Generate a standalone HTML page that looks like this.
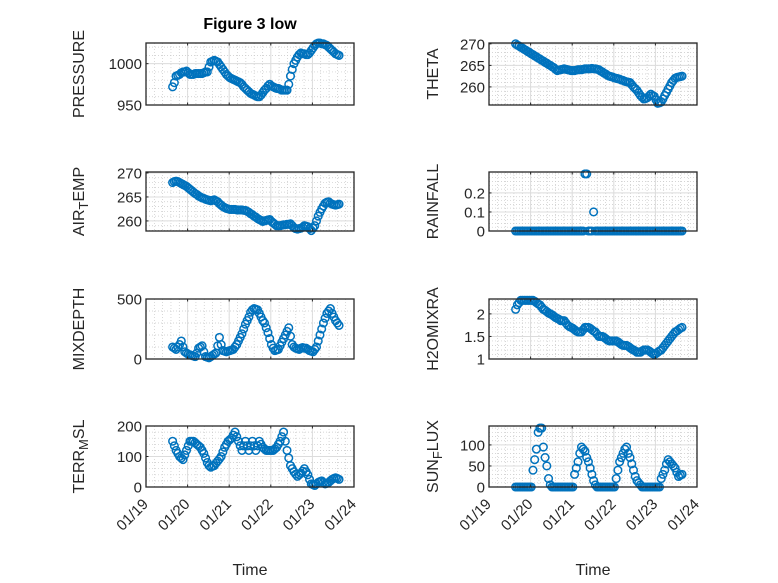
<!DOCTYPE html>
<html><head><meta charset="utf-8"><style>
body{margin:0;background:#fff;}
svg{display:block;font-family:"Liberation Sans","DejaVu Sans",sans-serif;}
</style></head><body>
<svg id="fig" width="778" height="583" viewBox="0 0 778 583">
<rect width="778" height="583" fill="#fff"/>
<text x="250" y="29" text-anchor="middle" font-size="16" font-weight="bold" fill="#000">Figure 3 low</text>
</svg>
<script>
const times = [];
for (let k = 0; k < 97; k++) times.push(19.64 + k / 24);
const dayTicks = [19, 20, 21, 22, 23, 24];
const dayLabels = ["01/19","01/20","01/21","01/22","01/23","01/24"];
const pressure = [972,977,985,986,987,989,990,990,991,989,987,987,987,988,988,988,988,988,989,990,990,996,1002,1003,1004,1003,1002,999,996,993,990,987,985,983,982,981,980,979,978,977,975,972,970,968,966,964,963,962,961,960,960,962,965,968,970,973,975,973,972,971,970,970,969,968,968,968,968,975,985,993,1000,1004,1008,1011,1013,1012,1012,1011,1011,1013,1016,1019,1022,1024,1025,1025,1024,1024,1023,1022,1020,1018,1016,1014,1012,1011,1010];
const theta = [270,269.7,269.5,269.2,269,268.7,268.5,268.2,268,267.7,267.5,267.2,267,266.7,266.5,266.2,266,265.7,265.5,265.2,265,264.7,264.5,264.1,263.8,263.9,264,264.1,264.2,264.1,264,263.9,263.8,263.8,263.8,263.9,264,264,264,264.1,264.2,264.2,264.2,264.2,264.3,264.2,264.2,264.1,264,263.7,263.5,263.2,263,262.7,262.5,262.4,262.3,262.1,262,261.9,261.8,261.6,261.5,261.3,261.2,261.1,261,260.5,260,259.6,259.2,258.6,258,257.6,257.2,257.3,257.5,257.9,258.3,258,257.8,257,256.2,256.3,256.5,257.2,258,258.7,259.5,260.2,261,261.5,262,262.2,262.3,262.4,262.5];
const airTemp = [268,268.2,268.3,268.2,268,267.8,267.6,267.4,267.2,266.9,266.6,266.3,266,265.7,265.5,265.2,265,264.8,264.7,264.5,264.4,264.3,264.2,264.3,264.4,264.2,264,263.6,263.3,263,262.8,262.6,262.5,262.4,262.4,262.4,262.4,262.3,262.3,262.3,262.3,262.2,262.2,262,261.8,261.5,261.3,261,260.8,260.5,260.3,260.1,259.9,260,260.1,260.2,260.3,259.9,259.6,259.3,259,259,259,259.1,259.2,259.2,259.3,259.3,259.4,259,258.6,258.4,258.3,258.4,258.5,258.7,259,258.9,258.8,258.4,258,258.5,259,260,261,261.8,262.5,263.1,263.7,263.9,264,263.7,263.5,263.4,263.3,263.4,263.5];
const rainfall = [0,0,0,0,0,0,0,0,0,0,0,0,0,0,0,0,0,0,0,0,0,0,0,0,0,0,0,0,0,0,0,0,0,0,0,0,0,0,0,0,0.3,0.3,0,0,0,0.1,0,0,0,0,0,0,0,0,0,0,0,0,0,0,0,0,0,0,0,0,0,0,0,0,0,0,0,0,0,0,0,0,0,0,0,0,0,0,0,0,0,0,0,0,0,0,0,0,0,0,0];
const mixDepth = [100,90,80,100,120,150,100,60,50,40,35,30,25,20,50,90,100,110,60,20,15,10,20,30,40,50,110,180,120,70,65,60,65,70,75,80,100,120,150,180,210,250,290,320,350,390,410,420,415,410,380,350,320,300,260,220,170,120,90,70,75,80,110,140,170,200,230,260,190,120,100,90,85,80,90,95,90,90,80,70,65,60,80,100,150,200,250,300,340,380,400,420,380,350,320,300,280];
const h2oMix = [2.1,2.2,2.25,2.3,2.3,2.3,2.3,2.3,2.3,2.3,2.3,2.28,2.25,2.22,2.2,2.15,2.1,2.08,2.05,2.02,2.0,1.98,1.95,1.92,1.9,1.88,1.85,1.85,1.85,1.8,1.75,1.72,1.7,1.68,1.65,1.62,1.6,1.6,1.6,1.65,1.7,1.7,1.7,1.68,1.65,1.62,1.6,1.55,1.5,1.5,1.5,1.48,1.45,1.42,1.4,1.4,1.4,1.4,1.4,1.38,1.35,1.32,1.3,1.3,1.3,1.28,1.25,1.22,1.2,1.18,1.15,1.15,1.15,1.18,1.2,1.2,1.2,1.18,1.15,1.12,1.1,1.12,1.15,1.18,1.2,1.25,1.3,1.35,1.4,1.45,1.5,1.55,1.6,1.62,1.65,1.68,1.7];
const terrMsl = [150,135,120,110,100,95,90,105,120,135,150,150,150,145,140,135,130,120,110,95,80,70,65,68,70,78,85,92,100,115,130,140,150,155,160,170,180,165,150,135,120,135,150,135,120,135,150,135,120,135,150,140,130,125,120,120,120,120,120,125,130,140,150,165,180,150,120,95,70,60,50,42,35,40,45,52,60,50,40,25,10,8,5,10,15,18,20,15,10,12,15,20,25,28,30,28,25];
const sunFlux = [0,0,0,0,0,0,0,0,0,0,40,65,90,130,140,140,95,70,50,20,5,0,0,0,0,0,0,0,0,0,0,0,0,0,30,45,60,80,95,90,85,70,60,45,30,15,5,0,0,0,0,0,0,0,0,0,0,0,20,40,60,70,80,90,95,80,70,55,40,25,15,10,5,0,0,0,0,0,0,0,0,0,0,0,20,30,40,55,65,60,55,50,45,35,25,28,30];

const NS = "http://www.w3.org/2000/svg";
const svg = document.getElementById("fig");
function mk(tag, attrs, parent) {
  const e = document.createElementNS(NS, tag);
  for (const k in attrs) e.setAttribute(k, attrs[k]);
  (parent || svg).appendChild(e);
  return e;
}
const panels = [
  {name:"pressure", data:pressure, x:146, y:43, w:208, h:62, ymin:950, ymax:1025, ticks:[950,1000], minor:10, label:["PRESSURE"], showX:false},
  {name:"theta", data:theta, x:489, y:43, w:208, h:62, ymin:255.8, ymax:270.2, ticks:[260,265,270], minor:1, label:["THETA"], showX:false},
  {name:"air-temp", data:airTemp, x:146, y:172, w:208, h:59, ymin:257.9, ymax:270.2, ticks:[260,265,270], minor:1, label:["AIR","T","EMP"], showX:false},
  {name:"rainfall", data:rainfall, x:489, y:172, w:208, h:59, ymin:0, ymax:0.31, ticks:[0,0.1,0.2], minor:0.02, label:["RAINFALL"], showX:false},
  {name:"mix-depth", data:mixDepth, x:146, y:299, w:208, h:60, ymin:0, ymax:500, ticks:[0,500], minor:100, label:["MIXDEPTH"], showX:false},
  {name:"h2o-mix-ratio", data:h2oMix, x:489, y:299, w:208, h:60, ymin:1, ymax:2.33, ticks:[1,1.5,2], minor:0.1, label:["H2OMIXRA"], showX:false},
  {name:"terr-msl", data:terrMsl, x:146, y:426, w:208, h:61, ymin:0, ymax:200, ticks:[0,100,200], minor:20, label:["TERR","M","SL"], showX:true},
  {name:"sun-flux", data:sunFlux, x:489, y:426, w:208, h:61, ymin:0, ymax:145, ticks:[0,50,100], minor:10, label:["SUN","F","LUX"], showX:true}
];
panels.forEach(p => {
  const g = mk("g", {});
  
  
  const xs = t => p.x + (t - 19) / 5 * p.w;
  const ys = v => p.y + p.h - (v - p.ymin) / (p.ymax - p.ymin) * p.h;
  for (let t = 19; t <= 24.001; t += 0.2) {
    const X = xs(t);
    mk("line", {x1:X, x2:X, y1:p.y, y2:p.y+p.h, stroke:"#c8c8c8", "stroke-width":0.7, "stroke-dasharray":"1,2"}, g);
  }
  for (let v = Math.ceil(p.ymin / p.minor) * p.minor; v <= p.ymax + 1e-9; v += p.minor) {
    const Y = ys(v);
    mk("line", {x1:p.x, x2:p.x+p.w, y1:Y, y2:Y, stroke:"#c8c8c8", "stroke-width":0.7, "stroke-dasharray":"1,2"}, g);
  }
  dayTicks.forEach(t => { const X = xs(t);
    mk("line", {x1:X, x2:X, y1:p.y, y2:p.y+p.h, stroke:"#dcdcdc", "stroke-width":1}, g); });
  p.ticks.forEach(v => { const Y = ys(v);
    mk("line", {x1:p.x, x2:p.x+p.w, y1:Y, y2:Y, stroke:"#dcdcdc", "stroke-width":1}, g); });
  p.data.forEach((v, i) => {
    const c = mk("circle", {cx:xs(times[i]), cy:ys(v), r:3.8, fill:"none", stroke:"#0072bd", "stroke-width":1.5}, g);
    
    
  });
  mk("rect", {x:p.x, y:p.y, width:p.w, height:p.h, fill:"none", stroke:"#262626", "stroke-width":1.3}, g);
  dayTicks.forEach(t => { const X = xs(t);
    mk("line", {x1:X, x2:X, y1:p.y+p.h, y2:p.y+p.h-2.5, stroke:"#262626"}, g);
    mk("line", {x1:X, x2:X, y1:p.y, y2:p.y+2.5, stroke:"#262626"}, g); });
  p.ticks.forEach(v => { const Y = ys(v);
    mk("line", {x1:p.x, x2:p.x+2.5, y1:Y, y2:Y, stroke:"#262626"}, g);
    const tl = mk("text", {x:p.x-4, y:Y+5.5, "text-anchor":"end", "font-size":15, fill:"#262626"}, g);
    tl.textContent = String(v);
    
    
  });
  const lx = p.x < 300 ? 84 : 438;
  const yl = mk("text", {x:lx, y:p.y+p.h/2, "text-anchor":"middle", "font-size":16, fill:"#262626", transform:`rotate(-90 ${lx} ${p.y+p.h/2})`}, g);
  
  
  if (p.label.length === 1) yl.textContent = p.label[0];
  else {
    const a = mk("tspan", {}, yl); a.textContent = p.label[0];
    const b = mk("tspan", {dy:4, "font-size":13}, yl); b.textContent = p.label[1];
    const c = mk("tspan", {dy:-4}, yl); c.textContent = p.label[2];
  }
  if (p.showX) {
    dayTicks.forEach((t, i) => {
      const X = xs(t), Y = p.y + p.h + 10;
      const tl = mk("text", {x:X+3, y:Y+8, "text-anchor":"end", "font-size":15, fill:"#262626", transform:`rotate(-45 ${X+3} ${Y+8})`}, g);
      tl.textContent = dayLabels[i];
      
      
    });
    const xl = mk("text", {x:p.x+p.w/2, y:575, "text-anchor":"middle", "font-size":16, fill:"#262626"}, g);
    xl.textContent = "Time";
    
    
  }
});
</script>
</body></html>
